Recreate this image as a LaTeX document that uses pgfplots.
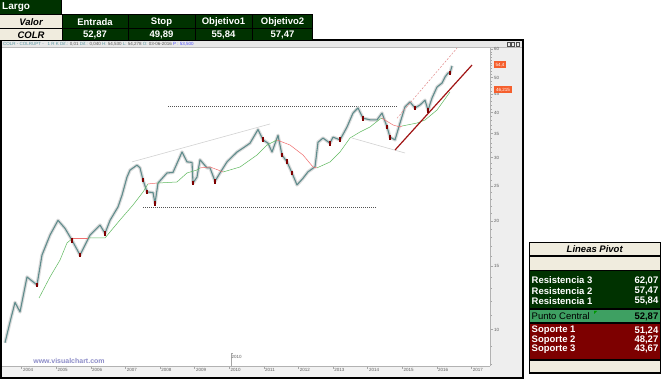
\documentclass[border=0pt]{standalone}
\usepackage{fontspec}
\setmainfont{Liberation Sans}
\usepackage{pgfplots}
\pgfplotsset{compat=1.18}
\definecolor{dkgreen}{RGB}{0,50,0}
\definecolor{cream}{RGB}{240,236,222}
\definecolor{pcgreen}{RGB}{62,160,98}
\definecolor{dkred}{RGB}{125,0,0}
\definecolor{candle}{RGB}{95,140,140}
\definecolor{maG}{RGB}{95,185,95}
\definecolor{maR}{RGB}{240,110,110}
\definecolor{trR}{RGB}{160,20,20}
\definecolor{trP}{RGB}{225,135,135}
\definecolor{vcblue}{RGB}{140,140,200}
\definecolor{tagor}{RGB}{245,95,45}
\definecolor{infot}{RGB}{90,150,160}
\newcommand{\fs}[1]{\fontsize{#1}{#1}\selectfont}
\begin{document}
\begin{tikzpicture}
\path[use as bounding box, fill=white] (0,0) rectangle (661pt,379pt);
\begin{scope}[x=1pt,y=-1pt,yshift=379pt]
 \fill[white] (0,39) rectangle (524,379);
 \fill[gray!18] (1.5,40.5) rectangle (522.5,47.5);
 \draw[gray!55,line width=0.4pt] (1.5,47.7) -- (522.5,47.7);
 \fill[gray!13] (490,48) rectangle (522.5,377);
 \fill[gray!10] (1.5,366) rectangle (490,377);
 \node[anchor=west,inner sep=0pt,font=\fs{4.5},text=infot] at (3,44) {COLR - COLRUPT - \ \ 1 R K Dif.: \textcolor{gray!70!black}{0,01} Dif.: \textcolor{gray!70!black}{0,040} H: \textcolor{gray!70!black}{54,530} L: \textcolor{gray!70!black}{54,278} O: \textcolor{gray!70!black}{03-06-2016} \textcolor{blue!70}{P : 53,500}};
\end{scope}
\begin{axis}[
 at={(2pt,13pt)}, anchor=south west,
 width=488pt, height=318pt, scale only axis,
 xmin=2003.436, xmax=2017.54,
 ymode=log, ymin=7.93, ymax=60.43,
 axis x line*=bottom, axis y line*=right,
 axis line style={draw=gray!60, -},
 xtick={2004,2005,2006,2007,2008,2009,2010,2011,2012,2013,2014,2015,2016,2017},
 xticklabels={2004,2005,2006,2007,2008,2009,2010,2011,2012,2013,2014,2015,2016,2017},
 xticklabel style={font=\fs{4.5}, text=gray!75!black, anchor=north west, inner sep=0.5pt, xshift=0.8pt, yshift=1pt},
 ytick={10,15,20,25,30,35,40,45,50,60},
 yticklabels={10,15,20,25,30,35,40,45,50,60},
 minor ytick={8,9,11,12,13,14,16,17,18,19,21,22,23,24,26,27,28,29,31,32,33,34,36,37,38,39,41,42,43,44,46,47,48,49,51,52,53,54,55,56,57,58,59},
 yticklabel style={font=\fs{4.5}, text=gray!75!black, inner sep=1pt},
 tick align=outside, major tick length=3pt, minor tick length=1.5pt,
 every tick/.style={gray!70, line width=0.4pt},
 /pgf/number format/assume math mode=true,
 clip=true,
 maG/.style={color=maG, line width=0.5pt},
 maR/.style={color=maR, line width=0.5pt},
]
% trend lines
\addplot[gray!65!black, line width=0.6pt, dash pattern=on 1.2pt off 0.8pt] coordinates {(2008.234,41.7) (2014.852,41.7)};
\addplot[gray!65!black, line width=0.6pt, dash pattern=on 1.2pt off 0.8pt] coordinates {(2007.512,21.9) (2014.220,21.9)};
\addplot[gray!35, line width=0.6pt] coordinates {(2007.194,29.2) (2011.182,37.2)};
\addplot[gray!35, line width=0.6pt] coordinates {(2013.552,34.0) (2015.084,30.9)};
% price
\addplot[gray!28, line width=3.4pt, line join=round] coordinates {
(2003.523,9.2) (2003.668,10.5) (2003.812,11.9) (2003.957,11.2) (2004.159,14.0) (2004.448,13.3) (2004.592,16.1) (2004.824,18.3) (2005.055,20.1) (2005.257,19.1) (2005.460,17.7) (2005.691,16.1) (2005.980,18.3) (2006.269,19.5) (2006.413,18.5) (2006.558,20.1) (2006.789,21.9) (2006.905,23.6) (2007.049,26.5) (2007.136,27.7) (2007.338,28.6) (2007.425,28.1) (2007.512,26.0) (2007.627,24.1) (2007.801,24.0) (2007.858,22.4) (2007.945,25.5) (2008.205,27.2) (2008.379,27.3) (2008.639,31.1) (2008.783,29.2) (2008.928,29.1) (2008.957,25.5) (2009.072,26.5) (2009.159,29.6) (2009.361,28.1) (2009.448,28.1) (2009.592,25.8) (2009.737,27.2) (2009.939,29.2) (2010.228,31.1) (2010.402,31.9) (2010.604,32.9) (2010.835,35.9) (2010.980,33.6) (2011.124,32.9) (2011.240,31.1) (2011.413,34.6) (2011.529,30.5) (2011.673,29.2) (2011.818,27.2) (2011.962,25.2) (2012.136,26.3) (2012.280,27.4) (2012.483,28.3) (2012.569,33.1) (2012.714,34.0) (2012.916,32.9) (2013.003,34.2) (2013.205,33.6) (2013.408,36.5) (2013.581,39.9) (2013.725,41.2) (2013.870,38.6) (2014.072,38.2) (2014.275,38.2) (2014.419,39.9) (2014.564,36.5) (2014.650,34.2) (2014.795,33.6) (2014.939,37.4) (2015.084,41.5) (2015.228,42.8) (2015.373,41.2) (2015.517,42.0) (2015.662,43.3) (2015.749,40.6) (2015.864,43.9) (2016.009,47.1) (2016.153,48.3) (2016.240,50.2) (2016.327,51.5) (2016.384,51.5) (2016.442,53.9)};
\addplot[candle, line width=1.1pt, line join=round] coordinates {
(2003.523,9.2) (2003.668,10.5) (2003.812,11.9) (2003.957,11.2) (2004.159,14.0) (2004.448,13.3) (2004.592,16.1) (2004.824,18.3) (2005.055,20.1) (2005.257,19.1) (2005.460,17.7) (2005.691,16.1) (2005.980,18.3) (2006.269,19.5) (2006.413,18.5) (2006.558,20.1) (2006.789,21.9) (2006.905,23.6) (2007.049,26.5) (2007.136,27.7) (2007.338,28.6) (2007.425,28.1) (2007.512,26.0) (2007.627,24.1) (2007.801,24.0) (2007.858,22.4) (2007.945,25.5) (2008.205,27.2) (2008.379,27.3) (2008.639,31.1) (2008.783,29.2) (2008.928,29.1) (2008.957,25.5) (2009.072,26.5) (2009.159,29.6) (2009.361,28.1) (2009.448,28.1) (2009.592,25.8) (2009.737,27.2) (2009.939,29.2) (2010.228,31.1) (2010.402,31.9) (2010.604,32.9) (2010.835,35.9) (2010.980,33.6) (2011.124,32.9) (2011.240,31.1) (2011.413,34.6) (2011.529,30.5) (2011.673,29.2) (2011.818,27.2) (2011.962,25.2) (2012.136,26.3) (2012.280,27.4) (2012.483,28.3) (2012.569,33.1) (2012.714,34.0) (2012.916,32.9) (2013.003,34.2) (2013.205,33.6) (2013.408,36.5) (2013.581,39.9) (2013.725,41.2) (2013.870,38.6) (2014.072,38.2) (2014.275,38.2) (2014.419,39.9) (2014.564,36.5) (2014.650,34.2) (2014.795,33.6) (2014.939,37.4) (2015.084,41.5) (2015.228,42.8) (2015.373,41.2) (2015.517,42.0) (2015.662,43.3) (2015.749,40.6) (2015.864,43.9) (2016.009,47.1) (2016.153,48.3) (2016.240,50.2) (2016.327,51.5) (2016.384,51.5) (2016.442,53.9)};
\addplot[only marks, mark=|, mark size=2.4pt, color=dkred, mark options={line width=1.2pt}] coordinates {
(2004.448,13.3) (2005.460,17.7) (2005.691,16.1) (2006.413,18.5) (2007.512,26.0) (2007.627,24.1) (2007.858,22.4) (2008.957,25.5) (2009.592,25.8) (2010.980,33.6) (2011.529,30.5) (2011.673,29.2) (2011.818,27.2) (2012.916,32.9) (2013.205,33.6) (2013.870,38.6) (2014.564,36.5) (2014.650,34.2) (2015.373,41.2) (2015.749,40.6) (2016.384,51.5)};
% moving average
\addplot[maG] coordinates {(2004.506,12.24) (2004.824,14.0) (2005.113,15.6) (2005.315,17.4) (2005.488,17.96)};
\addplot[maR] coordinates {(2005.488,17.96) (2005.922,17.96)};
\addplot[maG] coordinates {(2005.922,17.96) (2006.413,17.96) (2006.847,20.15) (2007.223,22.17) (2007.512,24.09) (2007.656,25.36)};
\addplot[maR] coordinates {(2007.656,25.36) (2007.916,25.5)};
\addplot[maG] coordinates {(2007.916,25.5) (2008.494,25.68) (2008.783,27.2) (2009.072,27.73) (2009.159,28.1)};
\addplot[maR] coordinates {(2009.159,28.1) (2009.448,28.26) (2009.679,27.73) (2009.824,27.37)};
\addplot[maG] coordinates {(2009.824,27.37) (2010.315,28.26) (2010.806,30.51) (2011.095,32.52) (2011.384,33.58)};
\addplot[maR] coordinates {(2011.384,33.58) (2011.760,32.52) (2012.136,30.51) (2012.425,28.26) (2012.540,28.1)};
\addplot[maG] coordinates {(2012.540,28.1) (2012.916,29.18) (2013.205,31.1) (2013.494,34.01) (2013.783,35.34) (2014.072,36.49) (2014.361,38.4) (2014.419,38.6)};
\addplot[maR] coordinates {(2014.419,38.6) (2014.737,36.96) (2014.939,36.49) (2014.997,36.72)};
\addplot[maG] coordinates {(2014.997,36.72) (2015.431,37.43) (2015.662,38.16) (2016.009,40.67) (2016.384,45.63)};
% channel
\addplot[trR, line width=1.2pt] coordinates {(2014.795,31.5) (2017.020,54.2)};
\addplot[trP, line width=0.5pt, dash pattern=on 2pt off 1.5pt] coordinates {(2014.853,38.6) (2016.587,60.4)};
\end{axis}
\begin{scope}[x=1pt,y=-1pt,yshift=379pt]
 % window decorations
 \node[font=\bfseries\fs{7},text=vcblue,inner sep=0pt] at (69,361) {www.visualchart.com};
 \draw[gray!70,line width=0.4pt] (231,366) -- (231,353.5) -- (233,353.5);
 \node[anchor=west,font=\fs{4.5},text=gray!75!black,inner sep=0pt] at (231.5,356.5) {2010};
 \fill[tagor] (494,61) rectangle (506,68.5);
 \node[font=\fs{4.5},text=white,inner sep=0pt] at (500,64.8) {54,4};
 \fill[tagor] (494,86) rectangle (512,93.5);
 \node[font=\fs{4.5},text=white,inner sep=0pt] at (503,89.8) {46,215};
 \foreach \xx in {507,511.5,516}{\draw[gray!60!black,line width=0.3pt] (\xx,42.2) rectangle (\xx+3,45.8);}
 \draw[black,line width=1.6pt] (0.8,39.8) rectangle (523.2,378.2);
 % top-left table
 \fill[black] (0,0) rectangle (62,15);
 \fill[black] (0,14) rectangle (313,41);
 \fill[dkgreen] (0,0) rectangle (61,14);
 \node[anchor=west,font=\bfseries\fs{10},text=white,inner sep=0pt] at (2,7.3) {Largo};
 \fill[cream] (0,15) rectangle (61.5,28);
 \fill[cream] (0,29) rectangle (61.5,40);
 \node[font=\bfseries\itshape\fs{9.5},inner sep=0pt] at (31,22) {Valor};
 \node[font=\bfseries\itshape\fs{9.5},inner sep=0pt] at (31,35) {COLR};
 \foreach \a/\b in {62.5/127.5,128.5/194.5,195.5/251.5,252.5/312}{
   \fill[dkgreen] (\a,15) rectangle (\b,28);
   \fill[dkgreen] (\a,29) rectangle (\b,40);}
 \foreach \cx/\h/\v in {95/Entrada/{52,87},161.5/Stop/{49,89},223.5/Objetivo1/{55,84},282.5/Objetivo2/{57,47}}{
   \node[font=\bfseries\fs{9.5},text=white,inner sep=0pt] at (\cx,22) {\h};
   \node[font=\bfseries\fs{9.5},text=white,inner sep=0pt] at (\cx,35) {\v};}
 % pivot table
 \fill[black] (528.5,242) rectangle (661,374);
 \fill[cream] (530,243.5) rectangle (659.5,255.5);
 \node[font=\bfseries\itshape\fs{9.5},inner sep=0pt] at (594.7,249.5) {Lineas Pivot};
 \fill[cream] (530,257) rectangle (659.5,270);
 \fill[dkgreen] (530,271.5) rectangle (659.5,308.5);
 \fill[pcgreen] (530,310) rectangle (659.5,322.5);
 \fill[dkred] (530,324) rectangle (659.5,359.5);
 \fill[cream] (530,361) rectangle (659.5,372.5);
 \foreach \yy/\nm/\vl in {280.5/Resistencia 3/{62,07},290.7/Resistencia 2/{57,47},301/Resistencia 1/{55,84},330.5/Soporte 1/{51,24},339.9/Soporte 2/{48,27},349.3/Soporte 3/{43,67}}{
   \node[anchor=west,font=\bfseries\fs{9.5},text=white,inner sep=0pt] at (531.5,\yy) {\nm};
   \node[anchor=east,font=\bfseries\fs{9.5},text=white,inner sep=0pt] at (658.5,\yy) {\vl};}
 \node[anchor=west,font=\fs{9.5},inner sep=0pt] at (531.5,316.5) {Punto Central};
 \node[anchor=east,font=\bfseries\fs{9.5},inner sep=0pt] at (658.5,316.5) {52,87};
 \fill[green!60!black] (594,311) -- (597,311) -- (594,314) -- cycle;
\end{scope}
\end{tikzpicture}
\end{document}
